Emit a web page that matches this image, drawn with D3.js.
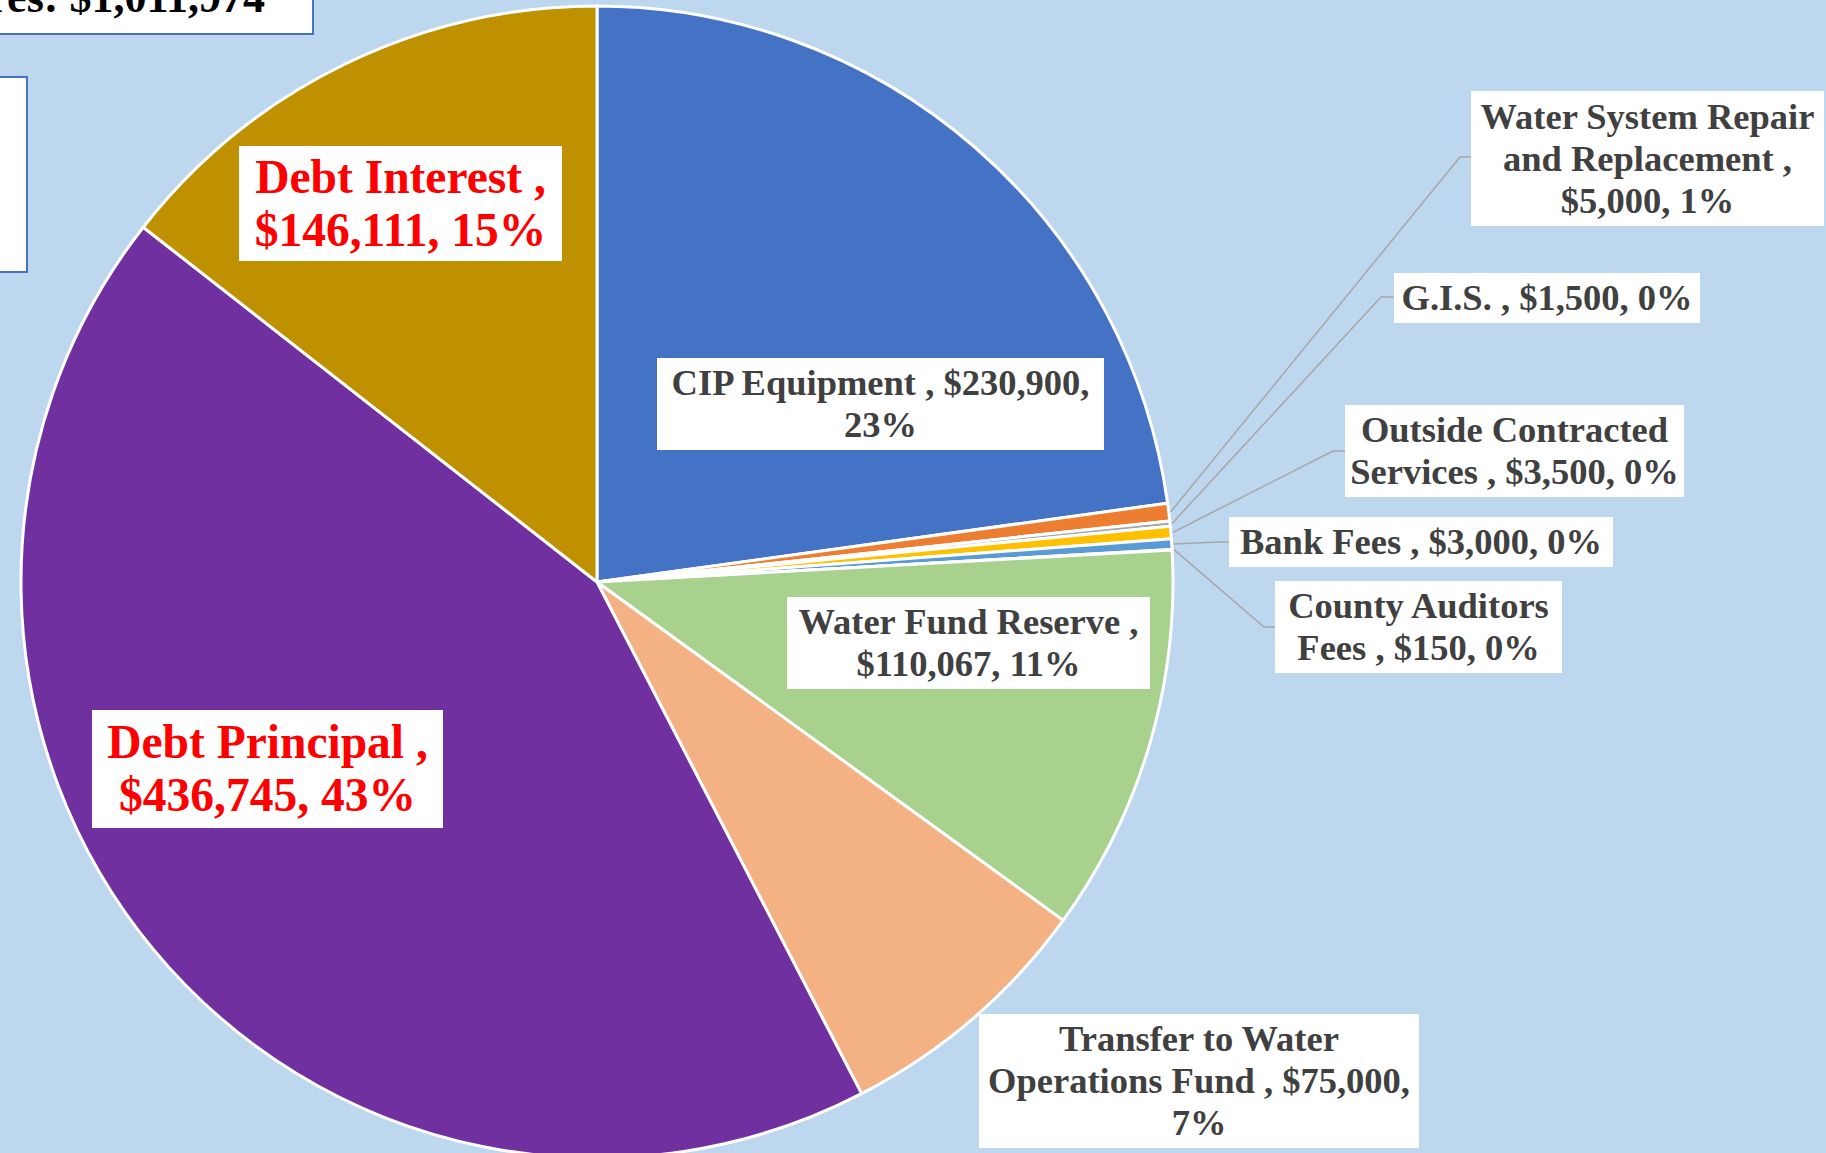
<!DOCTYPE html>
<html>
<head>
<meta charset="utf-8">
<script src="https://cdn.jsdelivr.net/npm/d3@7"></script>
<style>
  html, body { margin: 0; padding: 0; background: #BDD7EE; overflow: hidden; }
  svg { display: block; }
</style>
</head>
<body>
<svg id="chart"></svg>
<script>
/* ==========================================================
   1. DATA
   ========================================================== */
const categories = [
  "CIP Equipment", "Water System Repair and Replacement", "G.I.S.",
  "Outside Contracted Services", "Bank Fees", "County Auditors Fees",
  "Water Fund Reserve", "Transfer to Water Operations Fund",
  "Debt Principal", "Debt Interest"
];
const values = [230900, 5000, 1500, 3500, 3000, 150, 110067, 75000, 436745, 146111];
const percents = [23, 1, 0, 0, 0, 0, 11, 7, 43, 15];
const colors = ["#4472C4", "#ED7D31", "#A5A5A5", "#FFC000", "#5B9BD5",
                "#70AD47", "#A9D18E", "#F4B183", "#7030A0", "#BF9000"];
// words per line for each data label
const lineBreaks = [[4, 1], [3, 3, 2], [4], [2, 4], [5], [2, 4], [4, 2], [3, 4, 1], [3, 2], [3, 2]];
const highlighted = ["Debt Principal", "Debt Interest"];
const titleText = "Total Expenditures: $1,011,974";

/* ==========================================================
   2. LAYOUT (label boxes + leader elbows)
   ========================================================== */
const labelBoxes = [
  { x: 657,  y: 358,  w: 447, h: 92 },
  { x: 1471, y: 91,   w: 353, h: 135, elbow: [1460, 157] },
  { x: 1394, y: 273,  w: 306, h: 50,  elbow: [1381, 297] },
  { x: 1345, y: 405,  w: 339, h: 92,  elbow: [1333, 451] },
  { x: 1229, y: 517,  w: 384, h: 50,  elbow: [1220, 542] },
  { x: 1275, y: 581,  w: 287, h: 92,  elbow: [1264, 627] },
  { x: 787,  y: 597,  w: 363, h: 92 },
  { x: 979,  y: 1014, w: 440, h: 134 },
  { x: 92,   y: 710,  w: 351, h: 118 },
  { x: 239,  y: 146,  w: 323, h: 115 }
];

const width = 1826, height = 1153;
const cx = 597, cy = 582, radius = 576;
const fontFamily = "'Liberation Serif', 'DejaVu Serif', serif";

const svg = d3.select("#chart").attr("width", width).attr("height", height);

svg.append("rect").attr("width", width).attr("height", height).attr("fill", "#BDD7EE");

/* ==========================================================
   3. PIE
   ========================================================== */
const fmt = d3.format(",");
const rows = categories.map((c, i) => ({ name: c, value: values[i], pct: percents[i], color: colors[i], i }));

const pie = d3.pie().value(d => d.value).sort(null);
const arcs = pie(rows);
const arc = d3.arc().innerRadius(0).outerRadius(radius);

const g = svg.append("g").attr("transform", `translate(${cx},${cy})`);
g.selectAll("path.slice")
  .data(arcs)
  .enter()
  .append("path")
  .attr("class", "slice")
  .attr("d", arc)
  .attr("fill", d => d.data.color)
  .attr("stroke", "#fff")
  .attr("stroke-width", 3)
  .attr("stroke-linejoin", "round");

/* ==========================================================
   4. LEADER LINES
   ========================================================== */
arcs.forEach(a => {
  const box = labelBoxes[a.data.i];
  if (!box.elbow) return;
  const mid = (a.startAngle + a.endAngle) / 2;
  const sx = cx + (radius + 2) * Math.sin(mid);
  const sy = cy - (radius + 2) * Math.cos(mid);
  svg.append("polyline")
    .attr("points", `${sx},${sy} ${box.elbow[0]},${box.elbow[1]} ${box.x},${box.elbow[1]}`)
    .attr("fill", "none")
    .attr("stroke", "#A6A6A6")
    .attr("stroke-width", 1.5);
});

/* ==========================================================
   5. DATA LABELS
   ========================================================== */
rows.forEach(d => {
  const box = labelBoxes[d.i];
  const isRed = highlighted.includes(d.name);
  const size = isRed ? 47.5 : 36.5;
  const lh = isRed ? 53 : 42;
  const words = `${d.name} , $${fmt(d.value)}, ${d.pct}%`.split(" ");
  const lines = [];
  let k = 0;
  lineBreaks[d.i].forEach(n => { lines.push(words.slice(k, k + n).join(" ")); k += n; });

  svg.append("rect")
    .attr("x", box.x).attr("y", box.y)
    .attr("width", box.w).attr("height", box.h)
    .attr("fill", "#fff");

  const midY = box.y + box.h / 2;
  const t = svg.append("text")
    .attr("font-family", fontFamily)
    .attr("font-weight", "bold")
    .attr("font-size", size)
    .attr("fill", isRed ? "#FF0000" : "#404040")
    .attr("text-anchor", "middle");
  lines.forEach((ln, j) => {
    t.append("tspan")
      .attr("x", box.x + box.w / 2)
      .attr("y", midY + (j - (lines.length - 1) / 2) * lh + size * 0.33)
      .text(ln);
  });
});

/* ==========================================================
   6. TITLE BOX + CROPPED SIDE BOX
   ========================================================== */
svg.append("rect")
  .attr("x", -3).attr("y", -40).attr("width", 316).attr("height", 74)
  .attr("fill", "#fff").attr("stroke", "#4472C4").attr("stroke-width", 2);
svg.append("text")
  .attr("x", 265).attr("y", 12)
  .attr("text-anchor", "end")
  .attr("font-family", fontFamily)
  .attr("font-weight", "bold")
  .attr("font-size", 44)
  .attr("fill", "#000")
  .text(titleText);

svg.append("rect")
  .attr("x", -3).attr("y", 77).attr("width", 30).attr("height", 195)
  .attr("fill", "#fff").attr("stroke", "#4472C4").attr("stroke-width", 2);
</script>
</body>
</html>
